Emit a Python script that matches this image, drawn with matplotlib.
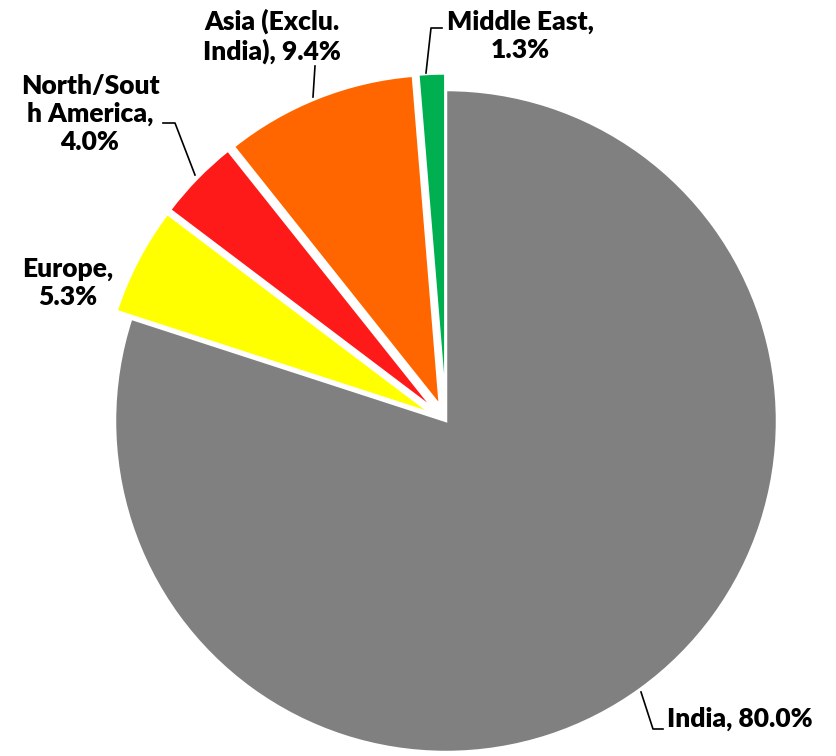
import matplotlib
matplotlib.use("Agg")
import matplotlib.pyplot as plt

regions = ["India", "Europe", "North/South America", "Asia (Exclu. India)", "Middle East"]
shares = [80.0, 5.3, 4.0, 9.4, 1.3]
label_text = ["India, 80.0%", "Europe,\n5.3%", "North/Sout\nh America,\n4.0%",
              "Asia (Exclu.\nIndia), 9.4%", "Middle East,\n1.3%"]
colors = ["#808080", "#FFFF00", "#FF1A1A", "#FF6600", "#00B050"]
explode = [0, 0.05, 0.05, 0.05, 0.05]

W, H = 836, 756
CX, CY, R = 446, 421, 331

def px(x, y):
    # pixel position -> data coords (radius 1 pie centred on CX, CY)
    return (x - CX) / R, (CY - y) / R

fig = plt.figure(figsize=(W / 100, H / 100), dpi=100)
ax = fig.add_axes([0, 0, 1, 1])
ax.pie(shares, colors=colors, startangle=90, counterclock=False, explode=explode,
       radius=1, wedgeprops=dict(edgecolor="white", linewidth=1.8))
ax.set_xlim(-CX / R, (W - CX) / R)
ax.set_ylim(-(H - CY) / R, CY / R)
ax.set_aspect("equal")
ax.axis("off")

font = dict(family=["Lato", "DejaVu Sans"], fontweight="heavy", fontsize=19,
            linespacing=1.2, color="black")

# label placement: (x, y, ha) in pixels
label_pos = [(667, 719, "left"), (68, 283, "center"), (90, 114, "center"),
             (272, 36, "center"), (520, 36, "center")]
for txt, (x, y, ha) in zip(label_text, label_pos):
    ax.text(*px(x, y), txt, ha=ha, va="center", **font)

# leader lines
leaders = [
    [(641, 692), (653, 729), (663, 729)],
    [(195, 175), (175, 123), (163, 123)],
    [(313, 97), (315, 66)],
    [(426, 73), (431, 28), (442, 28)],
]
for pts in leaders:
    xs, ys = zip(*[px(x, y) for x, y in pts])
    ax.plot(xs, ys, color="black", linewidth=1.2)

fig.savefig("out.png", dpi=100, facecolor="white")
